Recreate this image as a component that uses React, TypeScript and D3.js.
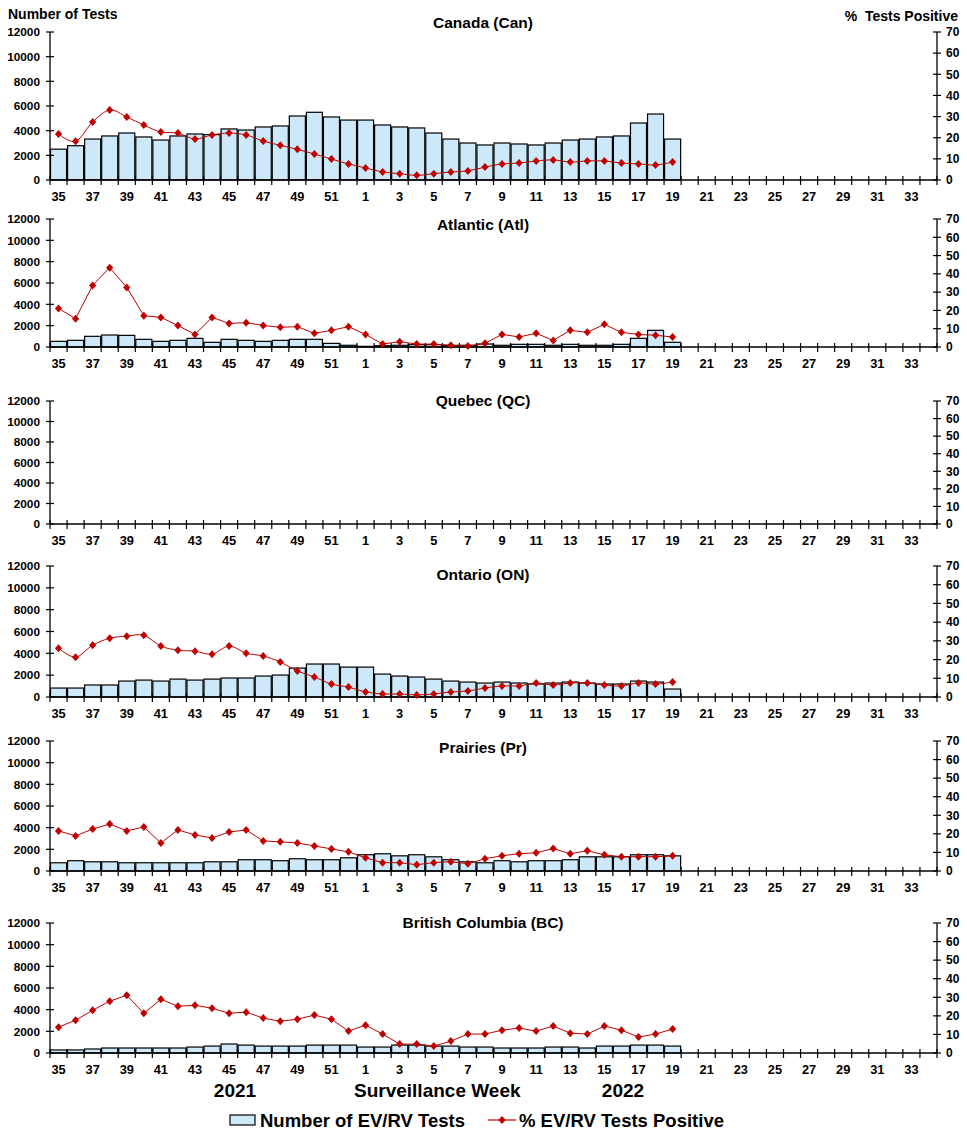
import React from "react";
import * as d3 from "d3";

// surveillance weeks, 2021 week 35 through 2022 week 34
const weeks = [
  "35", "36", "37", "38", "39", "40", "41", "42", "43", "44", "45", "46", "47", "48", "49", "50", "51", "52",
  "1", "2", "3", "4", "5", "6", "7", "8", "9", "10", "11", "12", "13", "14", "15", "16", "17", "18", "19",
  "20", "21", "22", "23", "24", "25", "26", "27", "28", "29", "30", "31", "32", "33", "34",
];

const leftTicks = [0, 2000, 4000, 6000, 8000, 10000, 12000];
const rightTicks = [0, 10, 20, 30, 40, 50, 60, 70];

// number of tests (weeks 35 .. 19)
const canadaTests = [2500, 2780, 3320, 3570, 3810, 3490, 3240, 3570, 3730, 3680, 4140, 4050, 4300, 4380, 5190, 5490, 5110, 4860,
  4860, 4460, 4300, 4220, 3810, 3320, 3000, 2840, 3000, 2920, 2840, 3000, 3240, 3320, 3490, 3570, 4620, 5350, 3320];
const canadaPct = [21.8, 18.3, 27.4, 33.1, 29.8, 26.0, 22.7, 22.2, 19.4, 21.3, 22.2, 21.3, 18.4, 16.4, 14.5, 12.3, 9.9, 7.6,
  5.7, 3.8, 3.0, 2.2, 3.0, 3.8, 4.3, 6.1, 7.6, 8.0, 9.0, 9.5, 8.5, 9.0, 9.0, 8.0, 7.6, 7.1, 8.5];

const atlanticTests = [530, 625, 1000, 1125, 1090, 720, 530, 625, 810, 440, 720, 625, 530, 625, 720, 720, 340, 160,
  60, 120, 160, 220, 220, 160, 160, 280, 160, 250, 250, 160, 250, 160, 160, 250, 810, 1560, 440];
const atlanticPct = [21.1, 15.5, 33.7, 43.4, 32.6, 17.1, 16.2, 11.7, 6.9, 16.2, 12.9, 13.3, 11.8, 10.8, 11.1, 7.5, 9.1, 11.1,
  6.9, 1.6, 2.9, 1.6, 1.6, 0.9, 0.5, 2.0, 6.9, 5.5, 7.5, 3.6, 9.1, 8.0, 12.4, 8.0, 6.9, 6.4, 5.5];

const quebecTests: number[] = [];
const quebecPct: number[] = [];

const ontarioTests = [820, 820, 1100, 1100, 1460, 1550, 1460, 1640, 1550, 1640, 1740, 1740, 1920, 2010, 2650, 3020, 3020, 2740,
  2740, 2100, 1920, 1830, 1640, 1460, 1370, 1280, 1370, 1280, 1190, 1280, 1370, 1280, 1190, 1190, 1460, 1370, 730];
const ontarioPct = [26.1, 21.3, 27.7, 31.4, 32.5, 33.0, 27.2, 25.0, 24.5, 22.9, 27.2, 23.4, 21.9, 18.7, 13.9, 10.7, 6.9, 5.3,
  2.7, 1.6, 1.6, 1.1, 1.6, 2.7, 3.2, 4.8, 5.9, 5.9, 7.5, 6.4, 7.5, 7.5, 6.4, 5.9, 7.5, 6.9, 8.0];

const prairiesTests = [760, 950, 850, 850, 760, 760, 760, 760, 760, 850, 850, 1040, 1040, 950, 1130, 1040, 1040, 1220,
  1500, 1590, 1400, 1500, 1310, 1040, 850, 760, 950, 850, 950, 950, 1040, 1310, 1310, 1310, 1500, 1500, 1400];
const prairiesPct = [21.6, 18.9, 22.6, 25.3, 21.6, 23.7, 15.1, 22.1, 19.4, 17.8, 21.0, 22.1, 16.2, 15.7, 15.1, 13.5, 11.9, 10.3,
  7.1, 4.5, 4.5, 3.4, 4.5, 5.0, 3.9, 6.6, 8.2, 9.3, 9.8, 12.1, 9.3, 10.9, 8.7, 7.7, 7.7, 7.7, 8.2];

const bcTests = [280, 280, 370, 460, 460, 460, 460, 460, 550, 640, 830, 730, 640, 640, 640, 730, 730, 730,
  550, 550, 730, 730, 640, 640, 550, 550, 460, 460, 460, 550, 550, 460, 640, 640, 730, 730, 640];
const bcPct = [13.9, 17.7, 23.0, 27.9, 31.1, 21.4, 28.9, 25.2, 25.7, 24.1, 21.4, 22.0, 18.8, 17.1, 18.2, 20.4, 18.2, 11.8,
  15.0, 10.2, 4.8, 4.8, 3.75, 6.4, 10.2, 10.2, 12.3, 13.4, 11.8, 14.5, 10.7, 10.2, 14.5, 12.3, 8.6, 10.2, 12.9];

const W = 967;
const H = 1140;
const FONT = "Arial, 'Liberation Sans', sans-serif";
const BAR_FILL = "#cde9f9";
const RED = "#c00000";

const panels = [
  { title: "Canada (Can)", tests: canadaTests, pct: canadaPct, top: 32, bottom: 180, titleY: 27.5, smooth: true },
  { title: "Atlantic (Atl)", tests: atlanticTests, pct: atlanticPct, top: 219, bottom: 347, titleY: 229.5, smooth: false },
  { title: "Quebec (QC)", tests: quebecTests, pct: quebecPct, top: 401, bottom: 524, titleY: 405.5, smooth: false },
  { title: "Ontario (ON)", tests: ontarioTests, pct: ontarioPct, top: 566, bottom: 697, titleY: 579.5, smooth: true },
  { title: "Prairies (Pr)", tests: prairiesTests, pct: prairiesPct, top: 741, bottom: 871, titleY: 752.5, smooth: false },
  { title: "British Columbia (BC)", tests: bcTests, pct: bcPct, top: 923, bottom: 1053, titleY: 927.5, smooth: false },
];

const X0 = 50;
const X1 = 937;

const diamond = "M0,-4L3.6,0L0,4L-3.6,0Z";

function Panel({ p }: { p: (typeof panels)[number] }) {
  const slot = d3.scaleBand<string>().domain(weeks).range([X0, X1]).padding(0);
  const xBar = d3.scaleBand<string>().domain(weeks).range([X0, X1]).paddingInner(0.06).paddingOuter(0.03);
  const yL = d3.scaleLinear().domain([0, 12000]).range([p.bottom, p.top]);
  const yR = d3.scaleLinear().domain([0, 70]).range([p.bottom, p.top]);
  const cx = (i: number) => (slot(weeks[i]) as number) + slot.bandwidth() / 2;

  const line = d3
    .line<number>()
    .x((d, i) => cx(i))
    .y((d) => yR(d))
    .curve(p.smooth ? d3.curveCardinal.tension(0) : d3.curveLinear);

  const bounds = weeks.map((w) => slot(w) as number).concat([X1]);

  return (
    <g>
      <text x={483} y={p.titleY} textAnchor="middle" fontSize={15.5} fontWeight="bold">
        {p.title}
      </text>
      {p.tests.map((v, i) => (
        <rect
          key={i}
          x={xBar(weeks[i])}
          y={yL(v)}
          width={xBar.bandwidth()}
          height={p.bottom - yL(v)}
          fill={BAR_FILL}
          stroke="#000"
          strokeWidth={1.2}
        />
      ))}
      {/* axes */}
      <line x1={X0} x2={X0} y1={p.top} y2={p.bottom} stroke="#000" strokeWidth={1.3} />
      <line x1={X1} x2={X1} y1={p.top} y2={p.bottom} stroke="#000" strokeWidth={1.3} />
      <line x1={X0} x2={X1} y1={p.bottom} y2={p.bottom} stroke="#000" strokeWidth={1.3} />
      {leftTicks.map((t) => (
        <g key={"l" + t}>
          <line x1={X0 - 4} x2={X0 + 4} y1={yL(t)} y2={yL(t)} stroke="#000" strokeWidth={1.2} />
          <text x={40} y={yL(t)} dy="0.36em" textAnchor="end" fontSize={11.8} fontWeight="bold">
            {t}
          </text>
        </g>
      ))}
      {rightTicks.map((t) => (
        <g key={"r" + t}>
          <line x1={X1 - 4} x2={X1 + 4} y1={yR(t)} y2={yR(t)} stroke="#000" strokeWidth={1.2} />
          <text x={946} y={yR(t)} dy="0.36em" textAnchor="start" fontSize={12} fontWeight="bold">
            {t}
          </text>
        </g>
      ))}
      {bounds.map((b, i) => (
        <line key={"t" + i} x1={b} x2={b} y1={p.bottom - 4} y2={p.bottom + 5} stroke="#000" strokeWidth={1.2} />
      ))}
      {weeks.map((w, i) =>
        i % 2 === 0 ? (
          <text key={"x" + w} x={cx(i)} y={p.bottom + 20.5} textAnchor="middle" fontSize={12.8} fontWeight="bold">
            {w}
          </text>
        ) : null
      )}
      {p.pct.length > 0 && (
        <path d={line(p.pct) || ""} fill="none" stroke={RED} strokeWidth={1} />
      )}
      {p.pct.map((v, i) => (
        <path key={"m" + i} d={diamond} transform={`translate(${cx(i)},${yR(v)})`} fill={RED} />
      ))}
    </g>
  );
}

export default function App() {
  return (
    <svg
      width={W}
      height={H}
      style={{ position: "absolute", left: 0, top: 0, background: "#fff" }}
      fontFamily={FONT}
    >
      <rect width={W} height={H} fill="#fff" />
      <text x={8} y={19} fontSize={14} fontWeight="bold">
        Number of Tests
      </text>
      <text x={958} y={21} fontSize={14} fontWeight="bold" textAnchor="end" style={{ whiteSpace: "pre" }}>
        {"%  Tests Positive"}
      </text>
      {panels.map((p) => (
        <Panel key={p.title} p={p} />
      ))}
      <text x={235} y={1097} textAnchor="middle" fontSize={19} fontWeight="bold">
        2021
      </text>
      <text x={354} y={1097} fontSize={19} fontWeight="bold">
        Surveillance Week
      </text>
      <text x={623} y={1097} textAnchor="middle" fontSize={19} fontWeight="bold">
        2022
      </text>
      {/* legend */}
      <rect x={230} y={1115} width={25} height={10} fill={BAR_FILL} stroke="#000" strokeWidth={1.2} />
      <text x={260} y={1126.5} fontSize={18.5} fontWeight="bold">
        Number of EV/RV Tests
      </text>
      <line x1={488} x2={516} y1={1120} y2={1120} stroke={RED} strokeWidth={1.2} />
      <path d={diamond} transform="translate(502,1120)" fill={RED} />
      <text x={519} y={1126.5} fontSize={18.5} fontWeight="bold">
        % EV/RV Tests Positive
      </text>
    </svg>
  );
}
